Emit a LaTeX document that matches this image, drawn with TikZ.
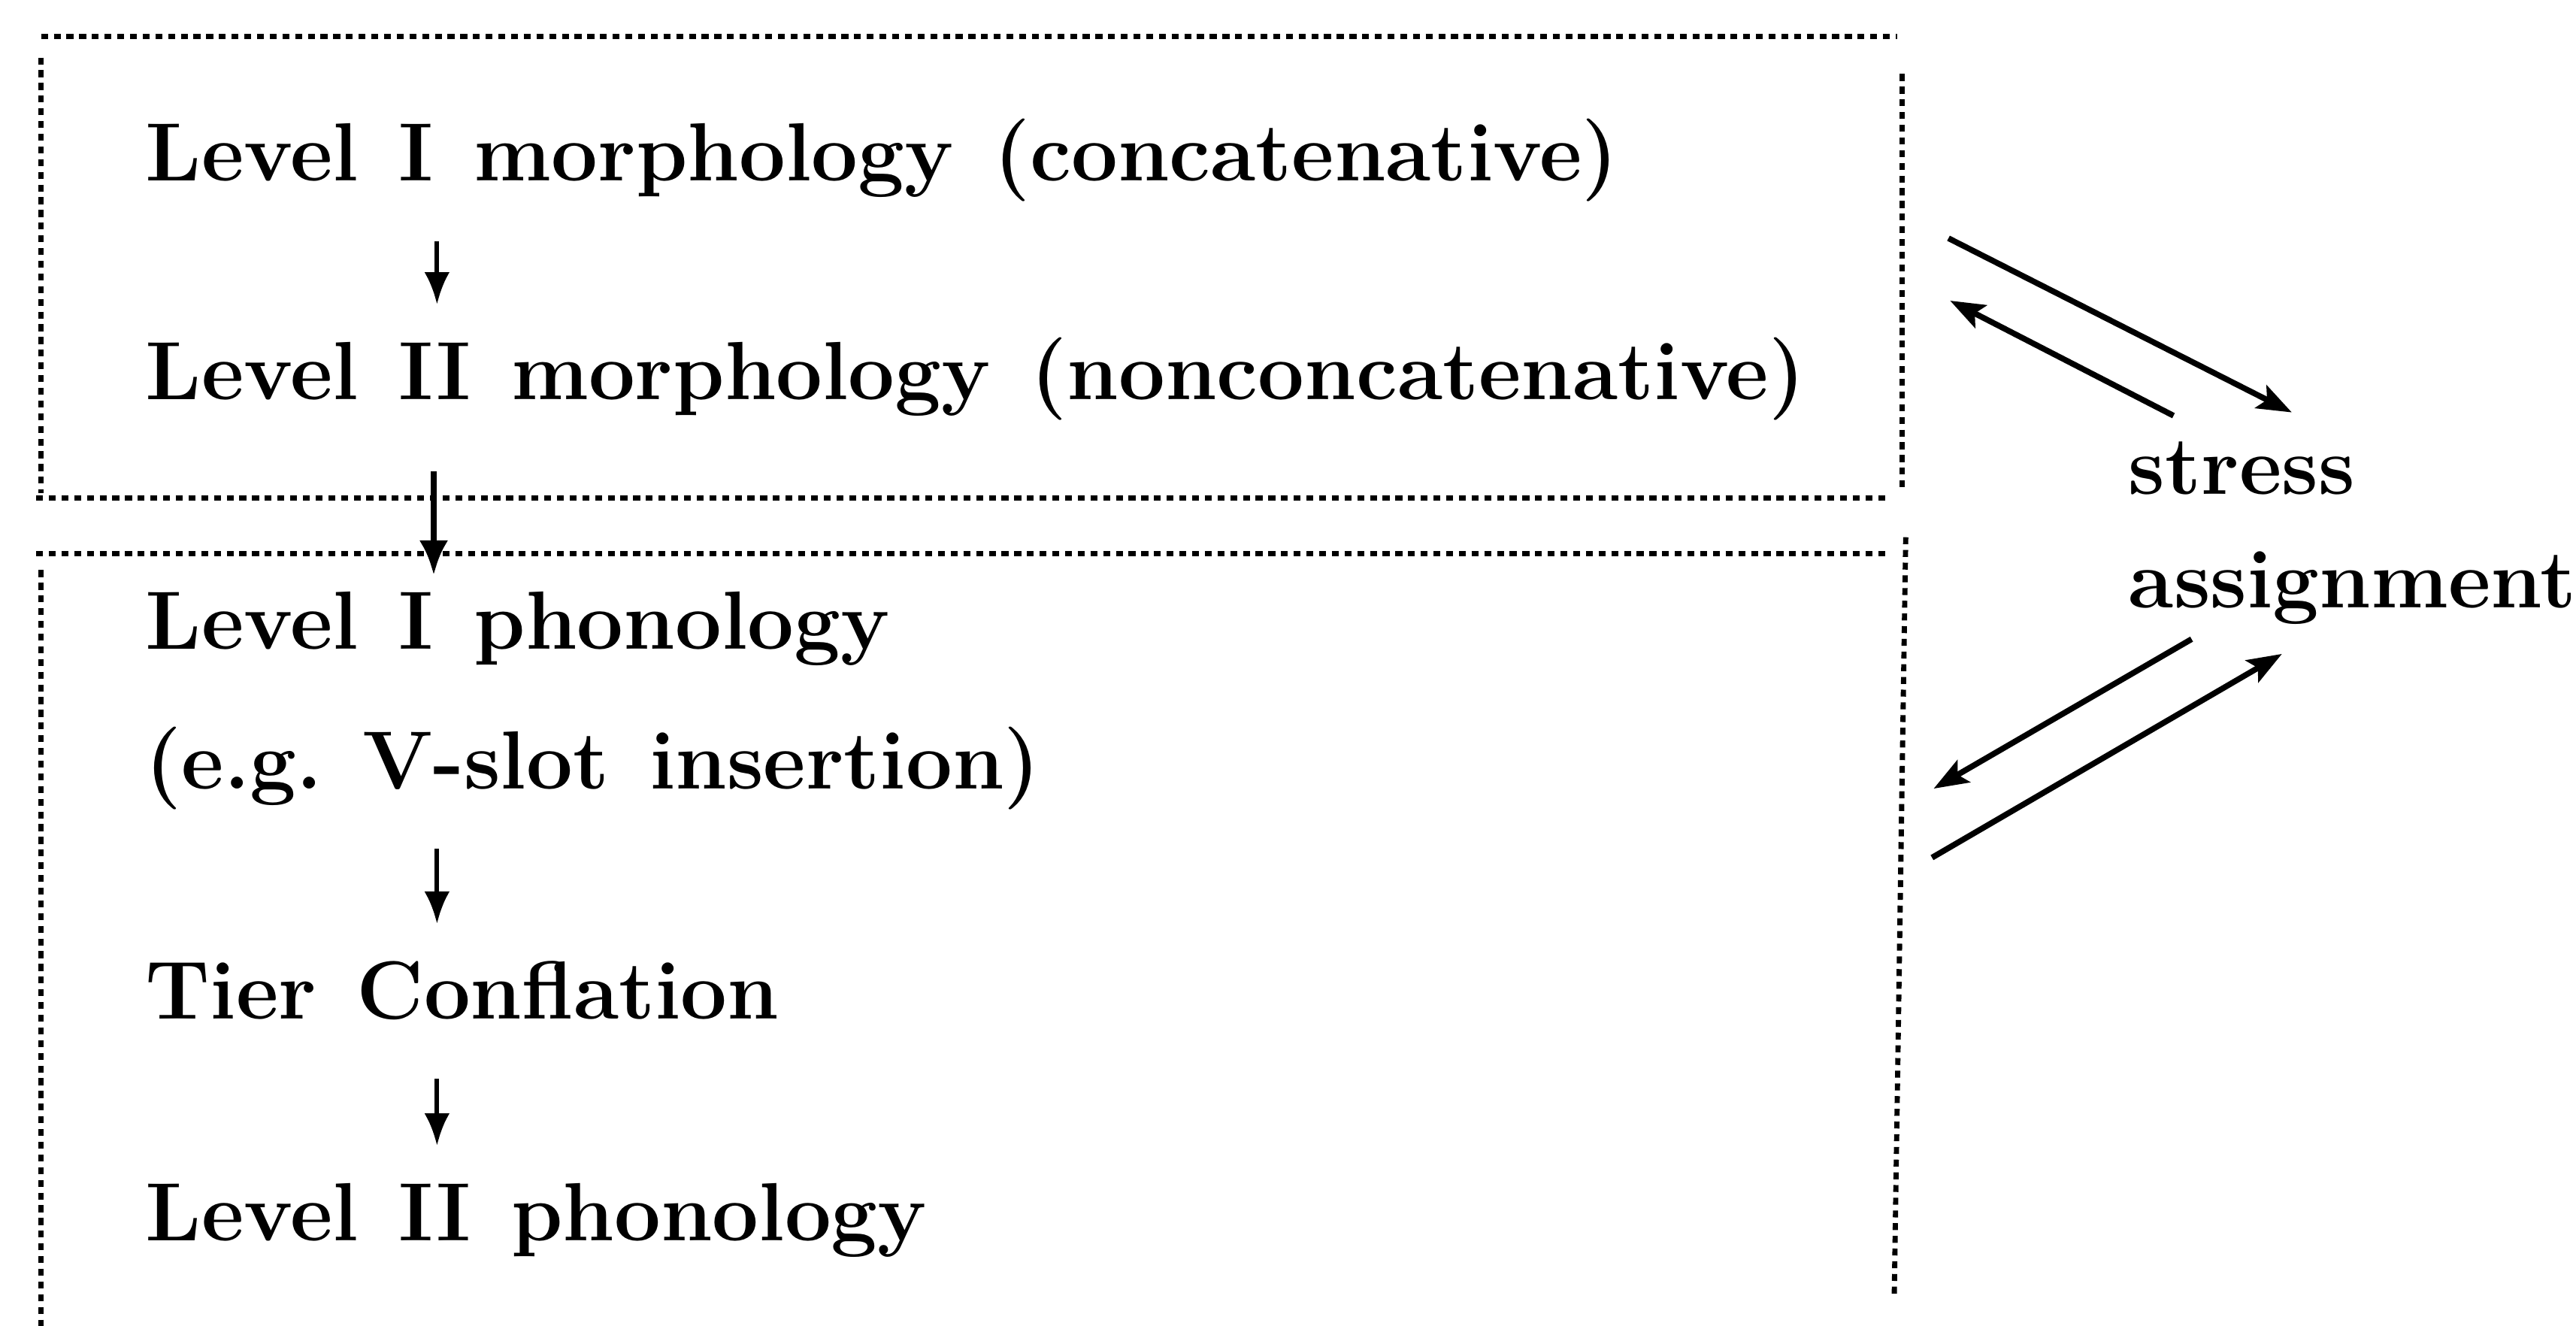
\documentclass[tikz,border=0pt]{standalone}
\usepackage{tikz}
\usetikzlibrary{arrows.meta,positioning,calc}
\newcommand{\widespace}{\spaceskip=7pt plus 1pt minus 1pt\relax}

\begin{document}
\begin{tikzpicture}[
    txt/.style={font=\fontsize{14.3}{17}\selectfont\bfseries\widespace,
        anchor=base west, inner sep=0pt, text height=0.35cm, text depth=0.1cm},
    boxline/.style={line width=0.9pt, dash pattern=on 1.2pt off 1pt},
    flow/.style={line width=0.8pt, -{Latex[length=5.6pt,width=4.4pt]},
        shorten <=0.26cm, shorten >=0.22cm},
    bigflow/.style={line width=1.1pt, -{Latex[length=6pt,width=5pt]}},
    stressarr/.style={line width=1pt, -{Stealth[length=6pt,width=4.4pt,inset=1.2pt]}}
]
\useasboundingbox (0,0) rectangle (15.68,-8.07);

% Morphology box (edges drawn one by one)
\draw[boxline] (0.25,-0.22) -- (11.55,-0.22);
\draw[boxline] (0.25,-0.35) -- (0.25,-3.00);
\draw[boxline] (11.58,-0.45) -- (11.58,-2.97);
\draw[boxline] (0.22,-3.03) -- (11.50,-3.03);

% Phonology box (open at the bottom)
\draw[boxline] (0.22,-3.37) -- (11.50,-3.37);
\draw[boxline] (0.25,-3.47) -- (0.25,-8.07);
\draw[boxline] (11.60,-3.27) -- (11.53,-7.90);

% Levels
\node[txt] (morphI)  at (0.88,-1.10) {Level I morphology (concatenative)};
\node[txt] (morphII) at (0.88,-2.43) {Level II morphology (nonconcatenative)};
\node[txt] (phonI)   at (0.88,-3.95) {Level I phonology};
\node[txt] (vslot)   at (0.88,-4.80) {(e.g.\ V-slot insertion)};
\node[txt] (tier)    at (0.88,-6.20) {Tier Conflation};
\node[txt] (phonII)  at (0.88,-7.55) {Level II phonology};

% Stress
\node[txt] (stress) at (12.95,-3.01) {stress};
\node[txt] (assign) at (12.95,-3.70) {assignment};

% Ordering arrows
\coordinate (ax) at (2.66,0);
\draw[flow] (morphI.south -| ax) -- (morphII.north -| ax);
\draw[bigflow] (2.64,-2.87) coordinate (mb) -- (2.64,-3.50) coordinate (pt);
\draw[flow] (vslot.south -| ax) -- (tier.north -| ax);
\draw[flow] (tier.south -| ax) -- (phonII.north -| ax);

% Interaction with stress assignment
\coordinate (mOut) at (11.86,-1.45);
\coordinate (mIn)  at (11.87,-1.83);
\coordinate (sIn)  at (13.95,-2.51);
\coordinate (sOut) at (13.23,-2.53);
\coordinate (aOut) at (13.34,-3.89);
\coordinate (pIn)  at (11.77,-4.80);
\coordinate (pOut) at (11.76,-5.22);
\coordinate (aIn)  at (13.89,-3.98);
\draw[stressarr] (mOut) -- (sIn);
\draw[stressarr] (sOut) -- (mIn);
\draw[stressarr] (aOut) -- (pIn);
\draw[stressarr] (pOut) -- (aIn);
\end{tikzpicture}
\end{document}
